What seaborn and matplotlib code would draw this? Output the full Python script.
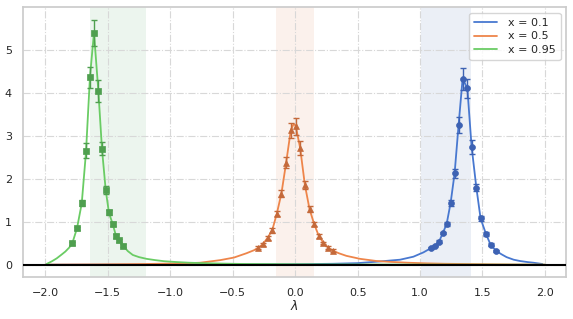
import numpy as np
import pandas as pd
import matplotlib
matplotlib.use("Agg")
import matplotlib.pyplot as plt
import seaborn as sns

# ---- data ----
labels = ["x = 0.1", "x = 0.5", "x = 0.95"]

# smooth curves
blue_curve_x = [-2.0, -1.0, 0.0, 0.3, 0.5, 0.68, 0.84, 0.947, 1.027, 1.088, 1.12, 1.152, 1.181,
                1.213, 1.245, 1.277, 1.309, 1.341, 1.379, 1.413, 1.451, 1.485, 1.528, 1.565,
                1.608, 1.65, 1.693, 1.75, 1.8, 1.86, 1.907, 1.98]
blue_curve_y = [0.003, 0.006, 0.015, 0.025, 0.04, 0.08, 0.12, 0.19, 0.29, 0.39, 0.45, 0.54, 0.73,
                0.95, 1.44, 2.13, 3.26, 4.33, 4.11, 2.75, 1.80, 1.08, 0.72, 0.47,
                0.33, 0.25, 0.18, 0.12, 0.09, 0.065, 0.05, 0.02]

orange_curve_x = [-2.0, -1.6, -1.2, -1.0, -0.85, -0.76, -0.6, -0.49, -0.39, -0.33, -0.295, -0.258,
                  -0.221, -0.184, -0.147, -0.11, -0.072, -0.035, -0.012, 0.004, 0.04, 0.078, 0.115,
                  0.152, 0.19, 0.227, 0.264, 0.302, 0.35, 0.41, 0.52, 0.65, 0.76, 0.9, 1.05,
                  1.2, 1.6, 2.0]
orange_curve_y = [0.005, 0.01, 0.02, 0.03, 0.04, 0.05, 0.11, 0.17, 0.27, 0.34, 0.40, 0.48,
                  0.63, 0.80, 1.19, 1.66, 2.38, 3.13, 3.28, 3.24, 2.72, 1.86, 1.30,
                  0.95, 0.67, 0.51, 0.40, 0.33, 0.27, 0.21, 0.14, 0.09, 0.07, 0.05, 0.035,
                  0.025, 0.012, 0.005]

green_curve_x = [-1.99, -1.95, -1.91, -1.87, -1.84, -1.81, -1.786, -1.747, -1.709, -1.675, -1.643,
                 -1.611, -1.576, -1.547, -1.517, -1.491, -1.461, -1.435, -1.408, -1.381, -1.34,
                 -1.30, -1.25, -1.19, -1.12, -1.05, -0.95, -0.85, -0.74, -0.6, -0.4, -0.2, 0.0,
                 0.3, 0.6, 1.0, 1.5, 2.0]
green_curve_y = [0.02, 0.08, 0.15, 0.24, 0.31, 0.40, 0.49, 0.85, 1.43, 2.62, 4.38,
                 5.40, 4.05, 2.70, 1.74, 1.21, 0.95, 0.68, 0.56, 0.46, 0.32,
                 0.23, 0.18, 0.14, 0.11, 0.085, 0.065, 0.05, 0.04, 0.03, 0.02, 0.017, 0.014,
                 0.01, 0.008, 0.006, 0.004, 0.003]

# measured points with error bars
blue_pts_x = [1.088, 1.12, 1.152, 1.181, 1.213, 1.245, 1.277, 1.309, 1.341, 1.379, 1.413, 1.451,
              1.485, 1.528, 1.565, 1.608]
blue_pts_y = [0.39, 0.45, 0.54, 0.74, 0.95, 1.44, 2.13, 3.26, 4.33, 4.11, 2.75, 1.80,
              1.08, 0.72, 0.47, 0.33]
blue_pts_err = [0.02, 0.02, 0.03, 0.03, 0.04, 0.06, 0.10, 0.18, 0.25, 0.22, 0.16, 0.08,
                0.05, 0.04, 0.03, 0.02]

orange_pts_x = [-0.295, -0.258, -0.221, -0.184, -0.147, -0.110, -0.072, -0.035, 0.004, 0.040,
                0.078, 0.115, 0.152, 0.190, 0.227, 0.264, 0.302]
orange_pts_y = [0.40, 0.48, 0.63, 0.80, 1.19, 1.66, 2.38, 3.13, 3.22, 2.72,
                1.86, 1.30, 0.95, 0.67, 0.51, 0.40, 0.33]
orange_pts_err = [0.03, 0.03, 0.04, 0.05, 0.06, 0.08, 0.12, 0.18, 0.20, 0.17,
                  0.10, 0.07, 0.05, 0.04, 0.03, 0.03, 0.03]

green_pts_x = [-1.786, -1.747, -1.709, -1.675, -1.643, -1.611, -1.576, -1.547, -1.517, -1.491,
               -1.461, -1.435, -1.408, -1.381]
green_pts_y = [0.50, 0.85, 1.45, 2.66, 4.36, 5.40, 4.05, 2.70, 1.74, 1.22,
               0.95, 0.67, 0.57, 0.45]
green_pts_err = [0.03, 0.04, 0.07, 0.17, 0.25, 0.30, 0.25, 0.15, 0.10, 0.06,
                 0.05, 0.04, 0.03, 0.03]

# shaded windows
spans = [(1.005, 1.405), (-0.155, 0.148), (-1.64, -1.195)]

line_colors = ["#4878d0", "#ee854a", "#6acc64"]
pt_colors = ["#3d62b3", "#c4693a", "#4f9f4f"]
span_colors = ["#4c72b0", "#dd8452", "#55a868"]
markers = ["o", "^", "s"]

# ---- plot ----
sns.set_theme(style="whitegrid")
plt.rcParams["font.family"] = ["DejaVu Sans"]

fig = plt.figure(figsize=(5.73, 3.19), dpi=100)
ax = fig.add_axes([0.040, 0.132, 0.948, 0.846])

curves = [(blue_curve_x, blue_curve_y), (orange_curve_x, orange_curve_y),
          (green_curve_x, green_curve_y)]
pts = [(blue_pts_x, blue_pts_y, blue_pts_err), (orange_pts_x, orange_pts_y, orange_pts_err),
       (green_pts_x, green_pts_y, green_pts_err)]

handles = []
for i in range(3):
    lo, hi = spans[i]
    ax.axvspan(lo, hi, color=span_colors[i], alpha=0.11, lw=0, zorder=0)

for i in range(3):
    cx, cy = curves[i]
    df = pd.DataFrame({"lam": cx, "val": cy})
    sns.lineplot(data=df, x="lam", y="val", ax=ax, color=line_colors[i], lw=1.3,
                 estimator=None, sort=False, zorder=3)
    handles.append(ax.lines[-1])

for i in range(3):
    px, py, pe = pts[i]
    ax.errorbar(px, py, yerr=pe, fmt="none", ecolor=pt_colors[i], elinewidth=1.0,
                capsize=2, capthick=1.0, zorder=4)
    dfp = pd.DataFrame({"lam": px, "val": py})
    sns.scatterplot(data=dfp, x="lam", y="val", ax=ax, color=pt_colors[i],
                    marker=markers[i], s=18, edgecolor=pt_colors[i], linewidth=0.5, zorder=5)

ax.axhline(0, color="black", lw=1.5, zorder=6)

ax.set_xlim(-2.18, 2.17)
ax.set_ylim(-0.28, 6.0)
ax.set_xticks([-2.0, -1.5, -1.0, -0.5, 0.0, 0.5, 1.0, 1.5, 2.0])
ax.set_yticks([0, 1, 2, 3, 4, 5])
ax.tick_params(labelsize=8, pad=2)
ax.set_xlabel(r"$\lambda$", fontsize=9, labelpad=1)
ax.set_ylabel("")
ax.grid(True, linestyle="-.", color="#d8d8d8", lw=0.8)
for s in ax.spines.values():
    s.set_color("#cccccc")

ax.legend(handles, labels, loc="upper right", fontsize=8, frameon=True,
          handlelength=2.0, borderpad=0.45, labelspacing=0.35, handletextpad=1.0)

fig.savefig("out.png", dpi=100)
